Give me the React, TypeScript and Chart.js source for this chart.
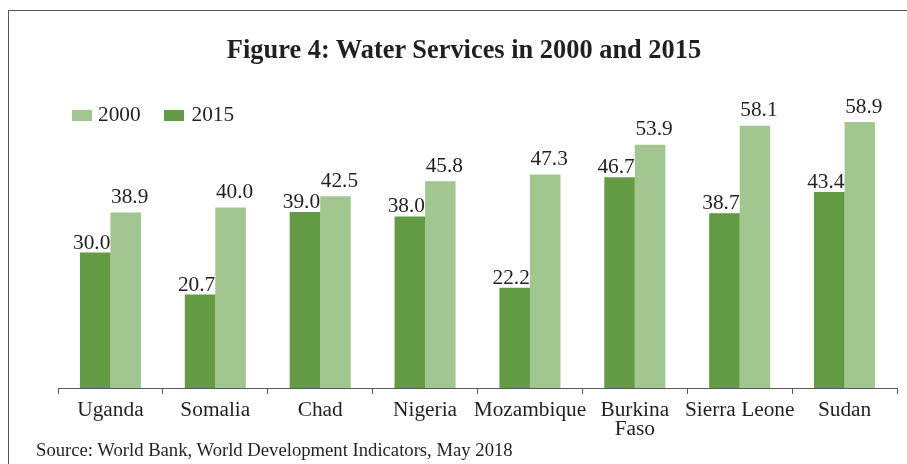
import React, { useEffect, useRef } from "react";
import { Chart, registerables } from "chart.js";

Chart.register(...registerables);

const categories: (string | string[])[] = [
  "Uganda",
  "Somalia",
  "Chad",
  "Nigeria",
  "Mozambique",
  ["Burkina", "Faso"],
  "Sierra Leone",
  "Sudan",
];
const values2015 = [30.0, 20.7, 39.0, 38.0, 22.2, 46.7, 38.7, 43.4];
const values2000 = [38.9, 40.0, 42.5, 45.8, 47.3, 53.9, 58.1, 58.9];
const seriesNames = ["2015", "2000"];

const DARK = "#629B43";
const LIGHT = "#A2C68F";
const TEXT = "#231F20";
const AXIS = "#5a5a5a";
const SERIF = "'Liberation Serif', 'Times New Roman', serif";

const labelPlugin = {
  id: "barValueLabels",
  afterDatasetsDraw(chart: any) {
    const ctx = chart.ctx;
    ctx.save();
    ctx.font = `21.33px ${SERIF}`;
    ctx.fillStyle = TEXT;
    ctx.textAlign = "center";
    ctx.textBaseline = "alphabetic";
    chart.data.datasets.forEach((ds: any, di: number) => {
      const meta = chart.getDatasetMeta(di);
      const dx = di === 0 ? -3.5 : 4;
      const gap = di === 0 ? 4 : 9.5;
      meta.data.forEach((bar: any, i: number) => {
        const v = ds.data[i] as number;
        ctx.fillText(v.toFixed(1), bar.x + dx, bar.y - gap);
      });
    });
    ctx.restore();
  },
};

export default function App() {
  const ref = useRef<HTMLCanvasElement | null>(null);

  useEffect(() => {
    if (!ref.current) return;
    const chart = new Chart(ref.current, {
      type: "bar",
      data: {
        labels: categories,
        datasets: [
          {
            label: seriesNames[0],
            data: values2015,
            backgroundColor: DARK,
            categoryPercentage: 0.582,
            barPercentage: 1,
          },
          {
            label: seriesNames[1],
            data: values2000,
            backgroundColor: LIGHT,
            categoryPercentage: 0.582,
            barPercentage: 1,
          },
        ],
      },
      options: {
        animation: false,
        responsive: false,
        devicePixelRatio: 1,
        layout: { padding: { left: 58, right: 10, top: 72, bottom: 0 } },
        plugins: {
          legend: { display: false },
          title: { display: false },
          tooltip: { enabled: false },
        },
        scales: {
          y: {
            display: false,
            min: 0,
            max: 70,
          },
          x: {
            offset: true,
            grid: {
              display: true,
              offset: true,
              drawOnChartArea: false,
              drawTicks: true,
              tickLength: 6,
              color: AXIS,
              lineWidth: 1,
            },
            border: { display: true, color: AXIS, width: 1 },
            ticks: {
              color: TEXT,
              padding: 7.5,
              maxRotation: 0,
              autoSkip: false,
              font: { family: SERIF, size: 21.33, lineHeight: 0.86 },
            },
            afterFit: (scale: any) => {
              scale.height = 76;
            },
          },
        },
      },
      plugins: [labelPlugin],
    });
    return () => chart.destroy();
  }, []);

  const textBase: React.CSSProperties = {
    position: "absolute",
    fontFamily: SERIF,
    color: TEXT,
    whiteSpace: "nowrap",
  };

  return (
    <div
      style={{
        position: "fixed",
        left: 0,
        top: 0,
        width: 907,
        height: 464,
        overflow: "hidden",
        background: "#fff",
      }}
    >
      <canvas
        ref={ref}
        width={907}
        height={464}
        style={{ position: "absolute", left: 0, top: 0, width: 907, height: 464 }}
      />
      <div style={{ position: "absolute", left: 8, top: 10, width: 899, height: 1, background: "#555" }} />
      <div style={{ position: "absolute", left: 8, top: 10, width: 1, height: 454, background: "#555" }} />
      <div
        style={{
          ...textBase,
          left: 464,
          top: 34,
          transform: "translateX(-50%)",
          fontSize: 26.4,
          lineHeight: "30px",
          fontWeight: "bold",
        }}
      >
        Figure 4: Water Services in 2000 and 2015
      </div>
      <div style={{ position: "absolute", left: 72, top: 109.5, width: 19.5, height: 11.5, background: LIGHT }} />
      <div style={{ ...textBase, left: 98, top: 101.5, fontSize: 21.33, lineHeight: "24px" }}>{seriesNames[1]}</div>
      <div style={{ position: "absolute", left: 164, top: 109.5, width: 19.5, height: 11.5, background: DARK }} />
      <div style={{ ...textBase, left: 191.5, top: 101.5, fontSize: 21.33, lineHeight: "24px" }}>{seriesNames[0]}</div>
      <div style={{ ...textBase, left: 36, top: 438.7, fontSize: 18.67, lineHeight: "22px" }}>
        Source: World Bank, World Development Indicators, May 2018
      </div>
    </div>
  );
}
